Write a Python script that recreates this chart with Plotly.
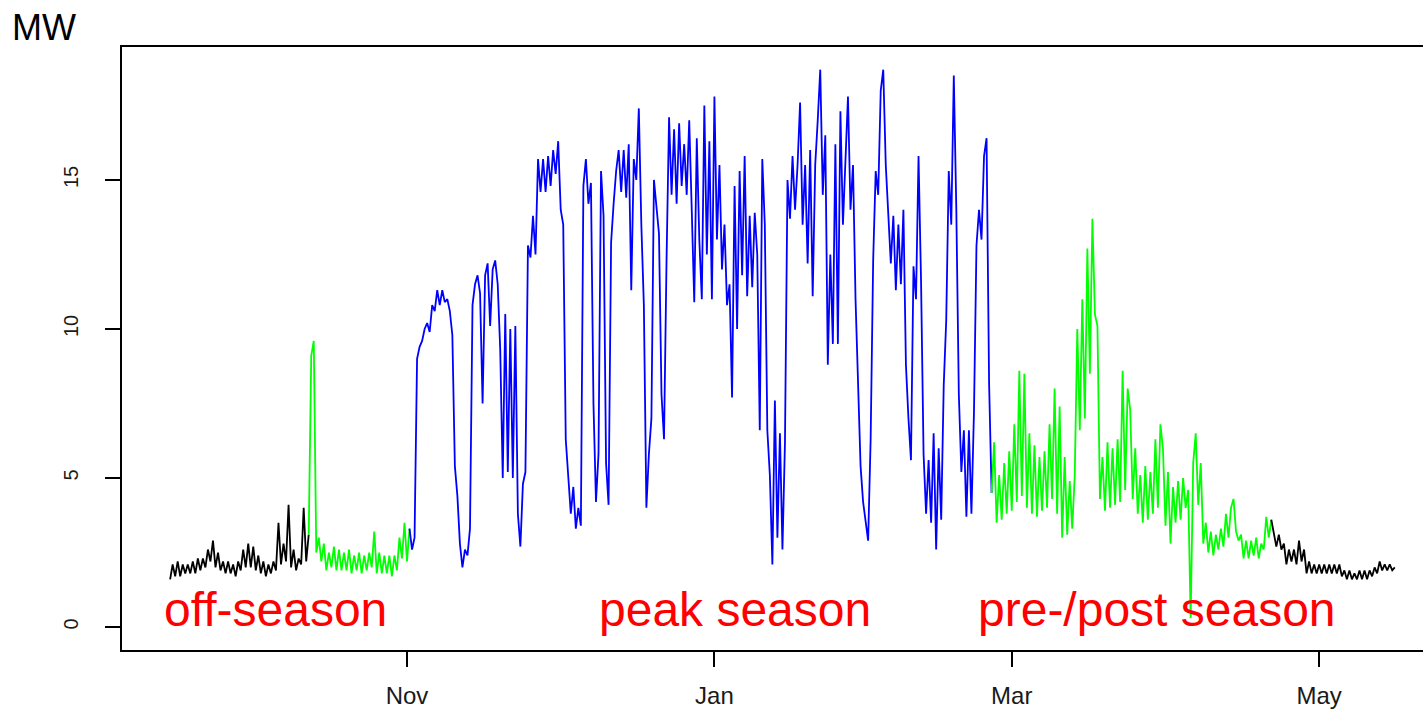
import pandas as pd
import plotly.graph_objects as go

# ---- data: load in MW, sampled every 12 hours starting 2016-09-15 ----
off_season_autumn = [1.6, 2.1, 1.7, 2.2, 1.7, 2.1, 1.8, 2.1, 1.8, 2.2, 1.8, 2.3, 1.9, 2.3,
                     2.0, 2.6, 2.2, 2.9, 2.0, 2.5, 1.9, 2.2, 1.8, 2.2, 1.8, 2.1, 1.7, 2.2,
                     1.9, 2.6, 2.0, 2.8, 2.0, 2.7, 1.9, 2.4, 1.8, 2.2, 1.7, 2.1, 1.8, 2.2,
                     1.9, 3.5, 2.1, 2.8, 2.2, 4.1, 2.0, 2.6, 1.9, 2.3, 2.1, 4.0, 2.2, 3.1]

pre_season = [9.1, 9.6, 2.5, 3.0, 2.2, 2.8, 1.9, 2.5, 2.0, 2.7, 1.9, 2.6, 1.9, 2.5,
              1.9, 2.6, 1.8, 2.4, 1.9, 2.5, 1.8, 2.4, 1.9, 2.5, 2.0, 3.2, 1.8, 2.5,
              1.8, 2.4, 1.8, 2.4, 1.7, 2.4, 1.9, 3.0, 2.3, 3.5, 2.2, 3.3]

peak_season = [
    2.6, 3.0, 9.0, 9.4, 9.6, 10.0, 10.2, 9.9, 10.8, 10.6,
    11.3, 10.8, 11.3, 10.9, 11.0, 10.6, 9.8, 5.4, 4.4, 2.8,
    2.0, 2.6, 2.4, 3.3, 10.8, 11.5, 11.8, 11.2, 7.5, 11.8,
    12.2, 10.1, 12.0, 12.3, 11.5, 9.3, 5.0, 10.5, 5.2, 10.0,
    5.0, 10.1, 3.8, 2.7, 4.8, 5.2, 12.8, 12.4, 13.8, 12.5,
    15.7, 14.6, 15.7, 14.6, 15.8, 14.8, 16.0, 15.2, 16.3, 14.0,
    13.5, 6.3, 5.0, 3.8, 4.7, 3.3, 4.0, 3.4, 14.8, 15.7,
    14.2, 14.9, 7.5, 4.2, 5.8, 15.3, 13.8, 5.5, 4.1, 12.9,
    14.2, 15.3, 16.0, 14.6, 16.0, 14.4, 16.2, 11.3, 15.7, 15.0,
    17.4, 13.5, 10.8, 4.0, 5.8, 7.0, 15.0, 14.0, 13.2, 7.8,
    6.3, 12.3, 17.1, 14.5, 16.7, 14.2, 16.9, 14.8, 16.2, 14.5,
    17.0, 14.0, 10.9, 16.4, 13.0, 11.0, 17.5, 12.5, 16.3, 11.0,
    17.8, 13.0, 15.5, 12.0, 13.5, 10.8, 11.5, 7.7, 14.8, 10.0,
    15.3, 11.8, 15.8, 11.1, 13.8, 11.4, 13.9, 12.5, 6.6, 15.7,
    13.5, 6.6, 5.1, 2.1, 7.6, 3.0, 6.5, 2.6, 6.2, 15.0,
    13.7, 15.8, 14.0, 15.5, 17.6, 13.5, 15.5, 12.2, 16.0, 11.1,
    15.5, 17.0, 18.7, 14.5, 16.5, 8.8, 12.5, 9.5, 16.2, 9.5,
    17.3, 13.5, 16.0, 17.8, 14.0, 15.5, 11.0, 8.1, 5.4, 4.2,
    3.5, 2.9, 6.3, 12.3, 15.3, 14.5, 18.0, 18.7, 15.5, 13.7,
    12.2, 13.8, 11.3, 13.5, 11.5, 14.0, 8.8, 7.0, 5.6, 12.1,
    11.0, 15.8, 11.6, 5.8, 3.8, 5.6, 3.5, 6.5, 2.6, 6.0,
    3.6, 8.1, 10.3, 15.3, 13.5, 18.5, 14.0, 7.8, 5.2, 6.6,
    3.7, 6.6, 3.8, 7.2, 12.8, 14.0, 13.0, 15.8, 16.4, 8.2,
    4.5]

post_season = [
    6.2, 3.5, 5.1, 3.6, 5.5, 3.8, 5.9, 3.9, 6.8, 4.2,
    8.6, 4.4, 8.5, 4.0, 6.5, 3.8, 6.1, 3.7, 5.7, 3.9,
    5.9, 4.0, 6.8, 4.3, 8.0, 3.8, 7.4, 3.0, 5.7, 3.1,
    4.9, 3.3, 5.1, 10.0, 6.6, 11.0, 7.0, 12.7, 8.5, 13.7,
    10.5, 10.1, 4.3, 5.7, 3.9, 6.2, 4.0, 6.0, 4.1, 6.3,
    4.2, 8.6, 4.6, 8.0, 7.3, 4.3, 6.0, 3.8, 5.1, 3.5,
    5.4, 3.6, 5.2, 3.8, 6.3, 4.0, 6.8, 6.0, 3.4, 5.2,
    2.8, 4.7, 3.5, 4.9, 3.6, 5.0, 4.0, 4.6, 0.3, 5.5,
    6.5, 4.1, 5.5, 2.8, 3.5, 2.5, 3.2, 2.4, 3.1, 2.6,
    3.3, 2.7, 3.8, 3.0, 4.0, 4.3, 3.2, 2.9, 3.1, 2.3,
    2.9, 2.3, 2.9, 2.4, 3.0, 2.3, 2.8, 2.6, 3.7, 3.0,
    3.6]

off_season_spring = [
    3.2, 2.7, 3.1, 2.6, 2.8, 2.1, 2.6, 2.2, 2.6, 2.1,
    2.9, 2.2, 2.6, 1.8, 2.2, 1.8, 2.1, 1.8, 2.1, 1.8,
    2.1, 1.8, 2.1, 1.8, 2.1, 1.8, 2.1, 1.7, 1.9, 1.6,
    1.9, 1.6, 1.8, 1.6, 1.9, 1.6, 1.9, 1.6, 1.9, 1.7,
    2.0, 1.8, 2.2, 1.9, 2.1, 1.9, 2.1, 1.9, 2.0]

start_time = "2016-09-15 00:00"
sample_step = "12h"

tick_dates = ["2016-11-01", "2017-01-01", "2017-03-01", "2017-05-01"]
tick_labels = ["Nov", "Jan", "Mar", "May"]
y_ticks = [0, 5, 10, 15]

season_labels = ["off-season", "peak season", "pre-/post season"]
season_label_dates = ["2016-09-13 08:00", "2016-12-08 16:00", "2017-02-22 00:00"]

# ---- figure ----
segments = [
    (off_season_autumn, "#000000"),
    (pre_season, "#00FF00"),
    (peak_season, "#0000FF"),
    (post_season, "#00FF00"),
    (off_season_spring, "#000000"),
]
values = [v for seg, _ in segments for v in seg]
times = pd.date_range(start_time, periods=len(values), freq=sample_step)

fig = go.Figure()
pos = 0
for seg, color in segments:
    lo = max(pos - 1, 0)
    hi = pos + len(seg)
    fig.add_trace(go.Scatter(
        x=times[lo:hi], y=values[lo:hi], mode="lines",
        line=dict(color=color, width=1.8), hoverinfo="skip", showlegend=False))
    pos = hi

nov1 = pd.Timestamp("2016-11-01")
x_range = [(nov1 + pd.Timedelta(days=-56.55)).isoformat(),
           (nov1 + pd.Timedelta(days=201.6)).isoformat()]

for txt, d in zip(season_labels, season_label_dates):
    fig.add_annotation(x=d, y=0.6, xref="x", yref="y", text=txt,
                       showarrow=False, xanchor="left", yanchor="middle",
                       font=dict(family="Liberation Sans, Arial", size=48, color="#FF0000"))

fig.add_annotation(x=-0.0862, y=1.033, xref="paper", yref="paper", text="MW",
                   showarrow=False, xanchor="left", yanchor="middle",
                   font=dict(family="Liberation Sans, Arial", size=36, color="#000000"))

fig.update_layout(
    width=1423, height=711,
    margin=dict(l=122, r=0, t=47, b=61, autoexpand=False),
    plot_bgcolor="white", paper_bgcolor="white",
    font=dict(family="Liberation Sans, Arial", color="#1a1a1a"),
    showlegend=False,
)
fig.update_xaxes(
    type="date", range=x_range, tickvals=tick_dates, ticktext=tick_labels,
    showgrid=False, zeroline=False, showline=True, mirror=True, automargin=False,
    linecolor="#000000", linewidth=1.5, ticks="outside", ticklen=15,
    tickwidth=1.5, tickcolor="#000000", tickfont=dict(size=24, color="#1a1a1a"),
    ticklabelstandoff=8,
)
fig.update_yaxes(
    range=[-0.77, 19.46], tickvals=y_ticks, ticktext=[str(t) for t in y_ticks],
    showgrid=False, zeroline=False, showline=True, mirror=False, automargin=False,
    linecolor="#000000", linewidth=1.5, ticks="outside", ticklen=15,
    tickwidth=1.5, tickcolor="#000000", tickangle=-90,
    tickfont=dict(size=20, color="#1a1a1a"), ticklabelstandoff=19,
)

# remove the default 8px page margin so the figure fills the window exactly
fig.write_html(
    "out.html",
    config={"displayModeBar": False},
    post_script="document.body.style.margin='0';"
                "document.documentElement.style.overflow='hidden';",
)
